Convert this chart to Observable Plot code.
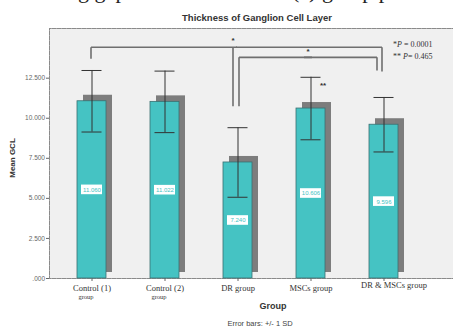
<!DOCTYPE html>
<html><head><meta charset="utf-8">
<script src="https://cdn.jsdelivr.net/npm/d3@7"></script>
<script src="https://cdn.jsdelivr.net/npm/@observablehq/plot@0.6"></script>
<style>
body{margin:0;background:#fff;}
#wrap{position:relative;width:453px;height:328px;overflow:hidden;font-family:"Liberation Sans",Arial,sans-serif;}
#wrap svg{position:absolute;left:0;top:0;}
.abs{position:absolute;white-space:nowrap;line-height:1;}
</style></head><body><div id="wrap"></div>
<script>
// ---- data ----
const groups = ["Control (1)", "Control (2)", "DR group", "MSCs group", "DR & MSCs group"];
const subLabels = ["group", "group", "", "", ""];
const means = [11.060, 11.022, 7.240, 10.606, 9.596];
const sds = [1.92, 1.92, 2.17, 1.95, 1.70];
const yTicks = [0, 2.5, 5, 7.5, 10, 12.5];
const title = "Thickness of Ganglion Cell Layer";
const yLabel = "Mean GCL";
const xLabel = "Group";
const note = "Error bars: +/- 1 SD";
const legendLines = ["*<i>P</i> = 0.0001", "** <i>P</i>= 0.465"];
// significance brackets (y in data units)
const bracket1Y = 14.43;
const bracket1Drops = [["Control (1)", 13.71], ["DR group", 10.75], ["DR & MSCs group", 12.91]];
const bracket2Y = 13.80;
const bracket2Drops = [["DR group", 10.75], ["DR & MSCs group", 12.98]];
const stars = [["DR group", 14.87, "*"], ["MSCs group", 14.14, "*"], ["MSCs group", 12.02, "**"]];

const rows = groups.map((g, i) => ({group: g, mean: means[i], sd: sds[i]}));

// ---- styles ----
const teal = "#45c3c3", shadow = "#7d7d7d", bg = "#f0f0f0", line = "#6f6f6f";
const W = 453, H = 328;

const bLine = {stroke: line, strokeWidth: 1.6};
const hseg = (a, b, y, dx) => Plot.link([0], {x1: () => a, x2: () => b, y1: () => y, y2: () => y, dx, ...bLine});
const vseg = (a, y1, y2, dx) => Plot.link([0], {x1: () => a, x2: () => a, y1: () => y1, y2: () => y2, dx, ...bLine});

const chart = Plot.plot({
  width: W, height: H,
  marginLeft: 49, marginRight: 0, marginTop: 28, marginBottom: 50,
  style: {background: "transparent", fontFamily: "Liberation Sans, Arial, sans-serif"},
  x: {domain: groups, range: [53.4, 421.4], paddingInner: 0.6, paddingOuter: 0.3, align: 0.5},
  y: {domain: [0, 15.6]},
  marks: [
    Plot.frame({fill: bg, stroke: null}),
    Plot.frame({anchor: "top", stroke: "#8a8a8a", strokeDasharray: "1.5,1"}),
    Plot.frame({anchor: "left", stroke: "#8a8a8a", strokeDasharray: "1.5,1"}),
    Plot.frame({anchor: "bottom", stroke: "#8a8a8a", strokeDasharray: "1.5,1"}),
    Plot.axisY({ticks: yTicks, tickSize: 3, tickPadding: 1.5, fontSize: 6.5, fill: "#666", stroke: "#666",
      tickFormat: d => d === 0 ? ".000" : d3.format(".3f")(d), label: null}),
    Plot.axisX({tickSize: 3, tickPadding: 3, fontSize: 8.5, fill: "#333", stroke: "#666",
      fontFamily: "Liberation Serif, Times New Roman, serif",
      tickFormat: d => d === groups[4] ? "" : d, label: null}),
    Plot.text([groups[4]], {x: d => d, frameAnchor: "bottom", dy: 9, dx: 10, fontSize: 8.5, fill: "#333",
      fontFamily: "Liberation Serif, Times New Roman, serif"}),
    Plot.text(rows.filter((d, i) => subLabels[i]), {x: "group", text: d => subLabels[groups.indexOf(d.group)],
      frameAnchor: "bottom", dy: 20, dx: -6, fontSize: 6.5, fill: "#333",
      fontFamily: "Liberation Serif, Times New Roman, serif"}),
    // shadow bars
    Plot.barY(rows, {x: "group", y: "mean", fill: shadow, dx: 6, dy: -6}),
    // bars
    Plot.barY(rows, {x: "group", y: "mean", fill: teal, stroke: "#3a6f70", strokeWidth: 0.8}),
    // value labels
    Plot.barY(rows, {x: "group", y1: d => d.mean / 2 - 0.3, y2: d => d.mean / 2 + 0.3, fill: "white", insetLeft: 4, insetRight: 4}),
    Plot.text(rows, {x: "group", y: d => d.mean / 2, text: d => d3.format(".3f")(d.mean), fill: teal, fontSize: 6}),
    // error bars
    Plot.ruleX(rows, {x: "group", y1: d => d.mean - d.sd, y2: d => d.mean + d.sd, stroke: "#333", strokeWidth: 1}),
    Plot.tickY(rows, {x: "group", y: d => d.mean + d.sd, stroke: "#333", strokeWidth: 1, insetLeft: 4.5, insetRight: 4.5}),
    Plot.tickY(rows, {x: "group", y: d => d.mean - d.sd, stroke: "#333", strokeWidth: 1, insetLeft: 4.5, insetRight: 4.5}),
    // bracket 1
    hseg(groups[0], groups[2], bracket1Y, -1),
    hseg(groups[2], groups[4], bracket1Y, -2),
    vseg(bracket1Drops[0][0], bracket1Y, bracket1Drops[0][1], -1),
    vseg(bracket1Drops[1][0], bracket1Y, bracket1Drops[1][1], -5),
    vseg(bracket1Drops[2][0], bracket1Y, bracket1Drops[2][1], -2),
    // bracket 2
    hseg(groups[2], groups[3], bracket2Y, 1),
    hseg(groups[3], groups[4], bracket2Y, -7),
    vseg(bracket2Drops[0][0], bracket2Y, bracket2Drops[0][1], 1),
    vseg(bracket2Drops[1][0], bracket2Y, bracket2Drops[1][1], -7),
    // stars
    Plot.text(stars.slice(0, 1), {x: d => d[0], y: d => d[1], text: d => d[2], dx: -5, fontSize: 8, fill: "#333", fontWeight: "bold"}),
    Plot.text(stars.slice(1, 2), {x: d => d[0], y: d => d[1], text: d => d[2], dx: -3, fontSize: 8, fill: "#333", fontWeight: "bold"}),
    Plot.text(stars.slice(2, 3), {x: d => d[0], y: d => d[1], text: d => d[2], dx: 12, fontSize: 8, fill: "#333", fontWeight: "bold"})
  ]
});

const wrap = document.getElementById("wrap");
wrap.appendChild(chart);

function addText(html, css) {
  const el = document.createElement("div");
  el.className = "abs";
  el.innerHTML = html;
  Object.assign(el.style, css);
  wrap.appendChild(el);
  return el;
}
// cut-off caption line at very top (only its descenders show, as in the reference)
addText("ing gap", {left: "61px", top: "-20px", fontFamily: "Liberation Serif, serif", fontSize: "22px", color: "#222"});
addText("(c) group p", {left: "292px", top: "-20px", fontFamily: "Liberation Serif, serif", fontSize: "22px", color: "#222"});
// title
addText(title, {left: "257px", top: "12.5px", transform: "translateX(-50%)", fontWeight: "bold", fontSize: "9.5px", color: "#333"});
// y label
addText(yLabel, {left: "13px", top: "158px", transform: "translate(-50%,-50%) rotate(-90deg)", fontWeight: "bold", fontSize: "8px", color: "#333"});
// x label
addText(xLabel, {left: "273px", top: "302px", transform: "translateX(-50%)", fontWeight: "bold", fontSize: "9px", color: "#333"});
// note
addText(note, {left: "260px", top: "320px", transform: "translateX(-50%)", fontSize: "7.5px", color: "#444"});
// legend
addText(legendLines[0], {left: "393px", top: "41px", fontFamily: "Liberation Serif, serif", fontSize: "8px", color: "#333"});
addText(legendLines[1], {left: "393px", top: "53px", fontFamily: "Liberation Serif, serif", fontSize: "8px", color: "#333"});
</script></body></html>
